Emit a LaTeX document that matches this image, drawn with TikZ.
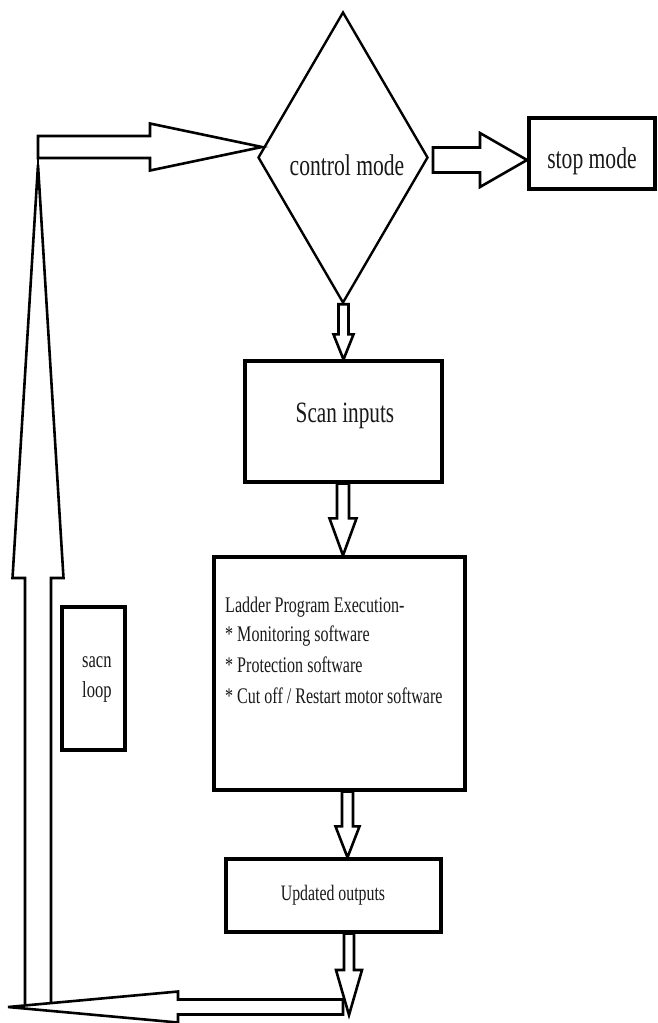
\documentclass[tikz,border=0pt]{standalone}
\usepackage{fontspec}
\setmainfont{Liberation Serif}
\newfontfamily\tnr[FakeStretch=0.72]{Liberation Serif}
\usetikzlibrary{shapes.geometric,calc}
\newcommand\downblk[5]{\draw[blk] let \p1=(#1),\p2=(#2) in (\x2-#3pt,\y1) -- (\x2-#3pt,\y2+#5pt) -- (\x2-#4pt,\y2+#5pt) -- (\x2,\y2) -- (\x2+#4pt,\y2+#5pt) -- (\x2+#3pt,\y2+#5pt) -- (\x2+#3pt,\y1) -- cycle;}
\newcommand\rightblk[5]{\draw[blk] let \p1=(#1),\p2=(#2) in (\x1,\y2+#3pt) -- (\x2-#5pt,\y2+#3pt) -- (\x2-#5pt,\y2+#4pt) -- (\x2,\y2) -- (\x2-#5pt,\y2-#4pt) -- (\x2-#5pt,\y2-#3pt) -- (\x1,\y2-#3pt) -- cycle;}
\newcommand\leftblk[5]{\draw[blk] let \p1=(#1),\p2=(#2) in (\x1,\y2+#3pt) -- (\x2+#5pt,\y2+#3pt) -- (\x2+#5pt,\y2+#4pt) -- (\x2,\y2) -- (\x2+#5pt,\y2-#4pt) -- (\x2+#5pt,\y2-#3pt) -- (\x1,\y2-#3pt) -- cycle;}
\begin{document}
\begin{tikzpicture}[x=1pt,y=-1pt,
  box/.style={draw, line width=3.2pt, inner sep=0pt, fill=white},
  blk/.style={draw, line width=2.6pt, fill=white, line join=miter},
  lbl/.style={font=\tnr\fontsize{#1}{#1}\selectfont, inner sep=0pt, text=black!90}]
\useasboundingbox (0,0) rectangle (657,1023);
\fill[white] (0,0) rectangle (657,1023);

% shapes
\node[draw, diamond, line width=2.4pt, minimum width=170pt, minimum height=291pt, inner sep=0pt] (dia) at (343,157.5) {};
\node[box, minimum width=126pt, minimum height=71pt] (stop) at (592,153.5) {};
\node[box, minimum width=197pt, minimum height=121pt] (scan) at (343.5,421.5) {};
\node[box, minimum width=251pt, minimum height=233pt] (ladder) at (339.5,673.5) {};
\node[box, minimum width=215pt, minimum height=73pt] (updated) at (333.5,895.5) {};
\node[box, minimum width=63pt, minimum height=143pt] (loopbox) at (93.5,678.5) {};

% texts
\node[lbl=30, anchor=base] (tdia) at (347,175) {control mode};
\node[lbl=30, anchor=base] (tstop) at (592,168) {stop mode};
\node[lbl=29.5, anchor=base] (tscan) at (345,422) {Scan inputs};
\node[lbl=22.3, anchor=base west] (tl1) at (225,612) {Ladder Program Execution-};
\node[lbl=22.3, anchor=base west] (tl2) at (225,641) {* Monitoring software};
\node[lbl=22.3, anchor=base west] (tl3) at (225,672) {* Protection software};
\node[lbl=22.3, anchor=base west] (tl4) at (225,703) {* Cut off / Restart motor software};
\node[lbl=22, anchor=base] (tupd) at (333,900) {Updated outputs};
\node[lbl=23, anchor=base west] (tsacn) at (82,667) {sacn};
\node[lbl=23, anchor=base west] (tloop) at (82,697) {loop};

% coordinates for free ends
\coordinate (upbase) at (38,1004);
\coordinate (uptip) at (38,165);
\coordinate (tlstart) at (38,147);
\coordinate (tltip) at (262,147);
\coordinate (rstart) at (433,160);
\coordinate (rtip) at (527,160);
\coordinate (bstart) at (343,1006);
\coordinate (btip) at (8,1007);
\coordinate (dtip) at (349,1015);

% big up arrow (scan loop return)
\draw[blk, fill=none] let \p1=(upbase),\p2=(uptip) in
  (\x2-13pt,\y1) -- (\x2-13pt,\y2-413pt) -- (\x2-25.5pt,\y2-413pt) -- (\x2,\y2)
  -- (\x2+25.5pt,\y2-413pt) -- (\x2+13pt,\y2-413pt) -- (\x2+13pt,\y1);
\draw[line width=2.6pt] (38,158) -- (uptip);

% block arrows
\rightblk{tlstart}{tltip}{11}{23.5}{112}
\rightblk{rstart}{rtip}{12.5}{27}{47}
\downblk{dia.south}{scan.north}{5}{10}{25}
\downblk{scan.south}{$(ladder.north)+(3.5,0)$}{6}{13.5}{37}
\downblk{ladder.south}{$(updated.north)+(14,0)$}{5.5}{12}{31}
\leftblk{bstart}{btip}{7.5}{15.5}{170}
\downblk{$(updated.south)+(16,0)$}{dtip}{5}{13}{45}
\end{tikzpicture}
\end{document}
